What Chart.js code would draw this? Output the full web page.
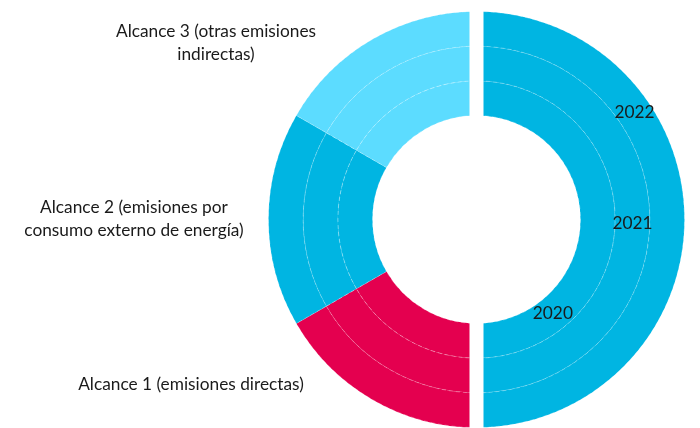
<!DOCTYPE html>
<html>
<head>
<meta charset="utf-8">
<script src="https://cdn.jsdelivr.net/npm/chart.js@4/dist/chart.umd.min.js"></script>
<style>
  html, body { margin: 0; padding: 0; background: #fff; }
  #wrap { position: relative; width: 700px; height: 428px; overflow: hidden; }
  #chart { position: absolute; left: 0; top: 0; }
  .scope {
    position: absolute;
    transform: translate(-50%, -50%);
    font-family: Lato, 'Open Sans', sans-serif;
    font-size: 17.3px;
    line-height: 22.5px;
    color: #1a1a1a;
    text-align: center;
    white-space: nowrap;
  }
</style>
</head>
<body>
<div id="wrap">
  <canvas id="chart" width="700" height="428"></canvas>
  <div class="scope" style="left:216px; top:42px;">Alcance 3 (otras emisiones<br>indirectas)</div>
  <div class="scope" style="left:134px; top:218px;">Alcance 2 (emisiones por<br>consumo externo de energía)</div>
  <div class="scope" style="left:191px; top:384px;">Alcance 1 (emisiones directas)</div>
</div>
<script>
// Rings, outermost first (Chart.js draws dataset 0 as the outer ring)
const years = ['2022', '2021', '2020'];
// Share of each scope per year (%): three equal thirds
const alcance1 = [33.3, 33.3, 33.3];
const alcance2 = [33.3, 33.3, 33.3];
const alcance3 = [33.3, 33.3, 33.3];
// Where each year label sits on the right half (degrees, 0 = pointing right)
const yearLabelAngles = [-34, 1.5, 51];

const BLUE = '#00b5e2';
const LIGHT = '#5cdcff';
const RED = '#e4004f';

// Right half is the total of the year, the left half splits it by scope
const datasets = years.map((year, i) => {
  const total = alcance1[i] + alcance2[i] + alcance3[i];
  return {
    label: year,
    data: [total, alcance1[i], alcance2[i], alcance3[i]],
    backgroundColor: [BLUE, RED, BLUE, LIGHT],
    borderColor: 'rgba(255,255,255,0.28)',
    borderWidth: 1,
    borderDash: [4, 3],
  };
});

// White vertical gap between the two halves
const splitGap = {
  id: 'splitGap',
  afterDatasetsDraw(chart) {
    const arc = chart.getDatasetMeta(0).data[0];
    if (!arc) return;
    const { ctx, chartArea } = chart;
    ctx.save();
    ctx.fillStyle = '#fff';
    ctx.fillRect(arc.x - 7, chartArea.top - 2, 14, chartArea.height + 4);
    ctx.restore();
  },
};

// Year name written inside its ring on the right half
const yearLabels = {
  id: 'yearLabels',
  afterDatasetsDraw(chart) {
    const { ctx } = chart;
    ctx.save();
    ctx.font = "17.3px Lato, 'Open Sans', sans-serif";
    ctx.fillStyle = '#1a1a1a';
    ctx.textAlign = 'center';
    ctx.textBaseline = 'middle';
    years.forEach((year, i) => {
      const arc = chart.getDatasetMeta(i).data[0];
      if (!arc) return;
      const r = (arc.innerRadius + arc.outerRadius) / 2;
      const a = yearLabelAngles[i] * Math.PI / 180;
      ctx.fillText(year, arc.x + r * Math.cos(a), arc.y + r * Math.sin(a));
    });
    ctx.restore();
  },
};

new Chart(document.getElementById('chart'), {
  type: 'doughnut',
  data: { labels: ['Total', 'Alcance 1', 'Alcance 2', 'Alcance 3'], datasets },
  options: {
    responsive: false,
    animation: false,
    cutout: '50%',
    layout: { padding: { left: 268, right: 15, top: 11, bottom: 0 } },
    plugins: {
      legend: { display: false },
      tooltip: { enabled: false },
    },
  },
  plugins: [splitGap, yearLabels],
});
</script>
</body>
</html>
